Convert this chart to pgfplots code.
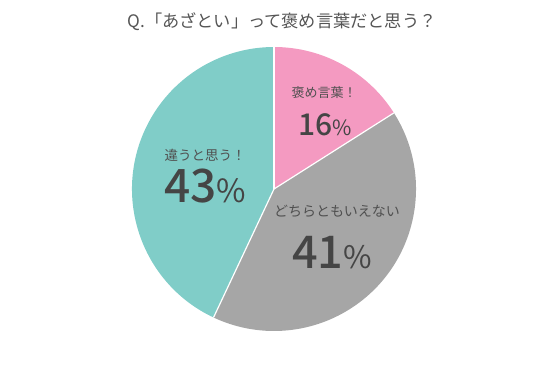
\documentclass[border=0pt]{standalone}
\usepackage{pgfplots}
\usepackage{pgfplotstable}
\pgfplotsset{compat=1.18}
\usepackage{fontspec}
\setmainfont{Noto Sans CJK JP}
\newfontfamily\numfont{Noto Sans CJK JP Medium}
\definecolor{cpink}{HTML}{F49AC1}
\definecolor{cgray}{HTML}{A6A6A6}
\definecolor{cteal}{HTML}{80CDC8}
\definecolor{ctext}{HTML}{454545}
\definecolor{clabel}{HTML}{505050}
\definecolor{ctitle}{HTML}{555555}

\pgfplotstableread[col sep=comma]{
value,color
16,cpink
41,cgray
43,cteal
}\piedata

\newcommand{\fs}[1]{\fontsize{#1bp}{#1bp}\selectfont}

\begin{document}
\begin{tikzpicture}
\begin{axis}[x=1bp,y=1bp,xmin=0,xmax=550,ymin=0,ymax=372,hide axis,clip=false,scale only axis]
  \path (axis cs:0,0) rectangle (axis cs:550,372);
  \def\cx{274}\def\cy{183}\def\R{142bp}
  \global\def\acc{90}
  \pgfplotsinvokeforeach{0,1,2}{
    \pgfplotstablegetelem{#1}{value}\of\piedata
    \pgfmathsetmacro{\sa}{\acc}
    \pgfmathsetmacro{\ea}{\acc-3.6*\pgfplotsretval}
    \pgfplotstablegetelem{#1}{color}\of\piedata
    \edef\temp{\noexpand\fill[\pgfplotsretval] (axis cs:\cx,\cy) -- ++(\sa:\R) arc[start angle=\sa, end angle=\ea, radius=\R] -- cycle;}
    \temp
    \global\let\acc\ea
  }
  \global\def\acc{90}
  \pgfplotsinvokeforeach{0,1,2}{
    \pgfplotstablegetelem{#1}{value}\of\piedata
    \pgfmathsetmacro{\sa}{\acc}
    \pgfmathsetmacro{\ea}{\acc-3.6*\pgfplotsretval}
    \edef\temp{\noexpand\draw[white,line width=1.2bp] (axis cs:\cx,\cy) -- ++(\sa:\R);}
    \temp
    \global\let\acc\ea
  }
  % title
  \node[text=ctitle,inner sep=0pt,anchor=center] at (axis cs:282,350) {\fs{17.2}Q.「あざとい」って褒め言葉だと思う？};
  % labels
  \node[text=clabel,inner sep=0pt,anchor=center] at (axis cs:324,279) {\fs{13}褒め言葉！};
  \node[text=ctext,inner sep=0pt,anchor=base] at (axis cs:325,237) {\numfont\fs{30}16{\normalfont\fs{21}\%}};
  \node[text=clabel,inner sep=0pt,anchor=center] at (axis cs:205,217) {\fs{13.5}違うと思う！};
  \node[text=ctext,inner sep=0pt,anchor=base] at (axis cs:205,170) {\numfont\fs{46}43{\normalfont\fs{32}\%}};
  \node[text=clabel,inner sep=0pt,anchor=center] at (axis cs:337,161) {\fs{14}どちらともいえない};
  \node[text=ctext,inner sep=0pt,anchor=base] at (axis cs:332,104) {\numfont\fs{45}41{\normalfont\fs{31}\%}};
\end{axis}
\end{tikzpicture}
\end{document}
